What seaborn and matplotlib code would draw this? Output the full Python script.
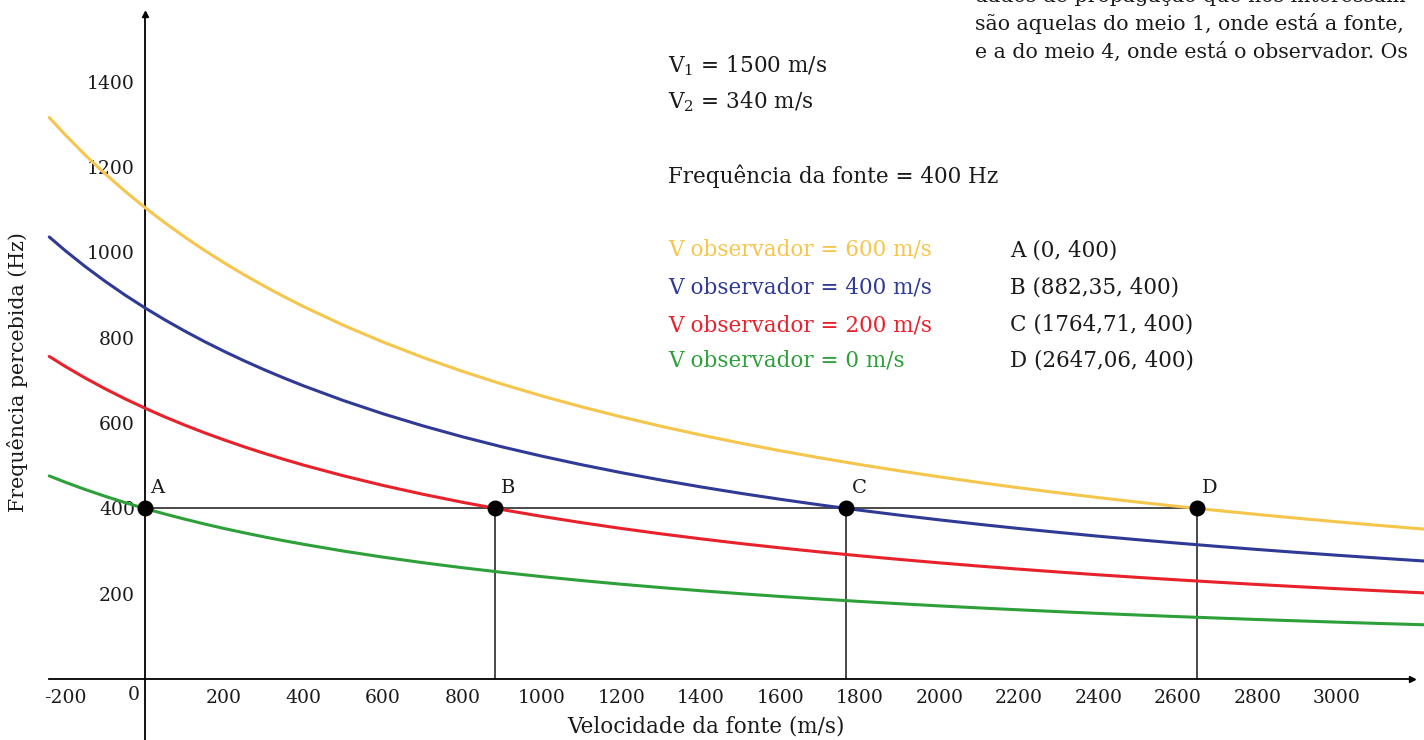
import pandas as pd
import matplotlib
matplotlib.use("Agg")
import matplotlib.pyplot as plt
import seaborn as sns

# source speed (m/s) sampled along the curves
v_fonte = [-240, -200, -150, -100, -50, 0, 50, 100, 150, 200, 250, 300, 350, 400, 500,
           600, 700, 800, 900, 1000, 1100, 1200, 1300, 1400, 1500, 1600, 1700, 1800,
           1900, 2000, 2100, 2200, 2300, 2400, 2500, 2600, 2700, 2800, 2900, 3000,
           3100, 3200, 3300]

# perceived frequency (Hz)
f_obs_600 = [1316.5, 1276.0, 1228.8, 1184.9, 1144.0, 1105.9, 1070.2, 1036.8, 1005.3,
             975.8, 947.9, 921.6, 896.7, 873.1, 829.4, 789.9, 754.0, 721.2, 691.2,
             663.5, 638.0, 614.4, 592.4, 572.0, 552.9, 535.1, 518.4, 502.7, 487.9,
             473.9, 460.8, 448.3, 436.5, 425.3, 414.7, 404.6, 395.0, 385.8, 377.0,
             368.6, 360.6, 352.9, 345.6]
f_obs_400 = [1036.4, 1004.5, 967.3, 932.8, 900.6, 870.6, 842.5, 816.2, 791.4, 768.2,
             746.2, 725.5, 705.9, 687.3, 652.9, 621.8, 593.6, 567.8, 544.1, 522.4,
             502.3, 483.7, 466.4, 450.3, 435.3, 421.3, 408.1, 395.7, 384.1, 373.1,
             362.7, 352.9, 343.7, 334.8, 326.5, 318.5, 310.9, 303.7, 296.8, 290.2,
             283.9, 277.8, 272.1]
f_obs_200 = [756.3, 733.0, 705.9, 680.7, 657.2, 635.3, 614.8, 595.6, 577.5, 560.6,
             544.5, 529.4, 515.1, 501.5, 476.5, 453.8, 433.2, 414.3, 397.1, 381.2,
             366.5, 352.9, 340.3, 328.6, 317.6, 307.4, 297.8, 288.8, 280.3, 272.3,
             264.7, 257.6, 250.8, 244.3, 238.2, 232.4, 226.9, 221.6, 216.6, 211.8,
             207.2, 202.8, 198.5]
f_obs_0 = [476.2, 461.5, 444.4, 428.6, 413.8, 400.0, 387.1, 375.0, 363.6, 352.9,
           342.9, 333.3, 324.3, 315.8, 300.0, 285.7, 272.7, 260.9, 250.0, 240.0,
           230.8, 222.2, 214.3, 206.9, 200.0, 193.5, 187.5, 181.8, 176.5, 171.4,
           166.7, 162.2, 157.9, 153.8, 150.0, 146.3, 142.9, 139.5, 136.4, 133.3,
           130.4, 127.7, 125.0]

series_names = ["V observador = 600 m/s", "V observador = 400 m/s",
                "V observador = 200 m/s", "V observador = 0 m/s"]
series_colors = ["#F6C54C", "#2F3A96", "#E8212B", "#2EA03A"]

# intersection points with f = 400 Hz
pt_names = ["A", "B", "C", "D"]
pt_x = [0, 882.35, 1764.71, 2647.06]
pt_y = [400, 400, 400, 400]
pt_texts = ["A (0, 400)", "B (882,35, 400)", "C (1764,71, 400)", "D (2647,06, 400)"]

x_ticks = [-200, 200, 400, 600, 800, 1000, 1200, 1400, 1600, 1800, 2000, 2200,
           2400, 2600, 2800, 3000]
y_ticks = [200, 400, 600, 800, 1000, 1200, 1400]

df = pd.DataFrame({
    "v": v_fonte * 4,
    "f": f_obs_600 + f_obs_400 + f_obs_200 + f_obs_0,
    "serie": sum([[n] * len(v_fonte) for n in series_names], []),
})

sns.set_style("white")
plt.rcParams["font.family"] = ["DejaVu Serif"]
plt.rcParams["mathtext.fontset"] = "dejavuserif"
plt.rcParams["axes.unicode_minus"] = False
plt.rcParams["text.color"] = "#1a1a1a"

fig = plt.figure(figsize=(14.24, 7.4), dpi=100)
ax = fig.add_axes([0, 0, 1, 1])
ax.set_xlim(-364, 3219)
ax.set_ylim(-143, 1592)

sns.lineplot(data=df, x="v", y="f", hue="serie", palette=series_colors,
             hue_order=series_names, linewidth=2.2, legend=False, ax=ax, zorder=3)

# guide lines through the points
line_col = "#3a3a3a"
ax.hlines(pt_y[0], pt_x[0], pt_x[-1], color=line_col, lw=1.3, zorder=2)
ax.vlines(pt_x[1:], 0, pt_y[1:], color=line_col, lw=1.3, zorder=2)
ax.scatter(pt_x, pt_y, s=110, color="black", zorder=5)
for n, x, y in zip(pt_names, pt_x, pt_y):
    ax.annotate(n, xy=(x, y), xytext=(4, 8), textcoords="offset points",
                fontsize=14, ha="left", va="bottom")

# axes through the origin
for side in ["top", "right"]:
    ax.spines[side].set_visible(False)
ax.spines["left"].set_position(("data", 0))
ax.spines["bottom"].set_position(("data", 0))
ax.spines["left"].set_bounds(-143, 1560)
ax.spines["bottom"].set_bounds(-240, 3190)
for s in ["left", "bottom"]:
    ax.spines[s].set_linewidth(1.3)
    ax.spines[s].set_color("black")
ax.plot([0], [1560], marker="^", color="black", markersize=5, clip_on=False)
ax.plot([3190], [0], marker=">", color="black", markersize=5, clip_on=False)

ax.set_xticks(x_ticks)
ax.set_yticks(y_ticks)
ax.tick_params(axis="both", direction="inout", length=4, width=1, labelsize=13.5,
               colors="#1a1a1a", pad=5)
ax.set_xlabel("")
ax.set_ylabel("")
ax.annotate("0", xy=(0, 0), xytext=(-8, -5), textcoords="offset points",
            ha="center", va="top", fontsize=13.5)

fig.text(706 / 1424, 1 - 726 / 740, "Velocidade da fonte (m/s)", ha="center",
         va="center", fontsize=15.5)
fig.text(18 / 1424, 1 - 372 / 740, "Frequência percebida (Hz)", ha="center",
         va="center", rotation=90, fontsize=14.8)

# annotation block
tx = 668 / 1424
fs = 15.5
fig.text(tx, 1 - 72 / 740, r"V$_1$ = 1500 m/s", fontsize=fs, va="baseline")
fig.text(tx, 1 - 108 / 740, r"V$_2$ = 340 m/s", fontsize=fs, va="baseline")
fig.text(tx, 1 - 183 / 740, "Frequência da fonte = 400 Hz", fontsize=fs, va="baseline")
for i, (name, col, pt) in enumerate(zip(series_names, series_colors, pt_texts)):
    yb = [256, 294, 331, 367][i]
    fig.text(tx, 1 - yb / 740, name, color=col, fontsize=fs, va="baseline")
    fig.text(1010 / 1424, 1 - yb / 740, pt, fontsize=fs, va="baseline")

# clipped paragraph from the page
para = ["dados de propagação que nos interessam",
        "são aquelas do meio 1, onde está a fonte,",
        "e a do meio 4, onde está o observador. Os"]
for i, line in enumerate(para):
    fig.text(975 / 1424, 1 - (2 + 28 * i) / 740, line, fontsize=14.8, va="baseline")

fig.savefig("out.png", dpi=100)
